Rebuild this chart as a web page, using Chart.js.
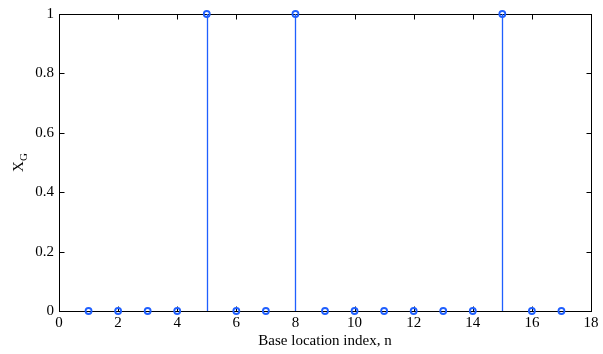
<!DOCTYPE html>
<html>
<head>
<meta charset="utf-8">
<script src="https://cdn.jsdelivr.net/npm/chart.js@4.4.0/dist/chart.umd.min.js"></script>
<style>
  html, body { margin: 0; padding: 0; background: #fff; }
  #wrap { width: 603px; height: 354px; }
</style>
</head>
<body>
<div id="wrap"><canvas id="stemChart"></canvas></div>
<script>
// data
const locationIndex = [1, 2, 3, 4, 5, 6, 7, 8, 9, 10, 11, 12, 13, 14, 15, 16, 17];
const xgValues = [0, 0, 0, 0, 1, 0, 0, 1, 0, 0, 0, 0, 0, 0, 1, 0, 0];
const xTickValues = [0, 2, 4, 6, 8, 10, 12, 14, 16, 18];
const yTickValues = [0, 0.2, 0.4, 0.6, 0.8, 1];

const STEM_BLUE = "#1f5fff";
const FONT = "'Liberation Serif', 'Times New Roman', serif";

// vertical stems from zero up to each value
const stemPlugin = {
  id: "stems",
  beforeDatasetsDraw(chart) {
    const ctx = chart.ctx;
    const xs = chart.scales.x, ys = chart.scales.y;
    ctx.save();
    ctx.strokeStyle = STEM_BLUE;
    ctx.lineWidth = 1.3;
    locationIndex.forEach((n, i) => {
      const px = Math.round(xs.getPixelForValue(n)) + 0.5;
      ctx.beginPath();
      ctx.moveTo(px, ys.getPixelForValue(0));
      ctx.lineTo(px, ys.getPixelForValue(xgValues[i]));
      ctx.stroke();
    });
    ctx.restore();
  }
};

// box around the axes with inward ticks, plus the X_G label
const framePlugin = {
  id: "frame",
  beforeDatasetsDraw(chart) {
    const ctx = chart.ctx;
    const a = chart.chartArea;
    const xs = chart.scales.x, ys = chart.scales.y;
    const L = Math.round(a.left) + 0.5, R = Math.round(a.right) + 0.5;
    const T = Math.round(a.top) + 0.5, B = Math.round(a.bottom) + 0.5;
    const tick = 5;
    ctx.save();
    ctx.strokeStyle = "#000";
    ctx.lineWidth = 1;
    ctx.strokeRect(L, T, R - L, B - T);
    ctx.beginPath();
    xTickValues.forEach(v => {
      const px = Math.round(xs.getPixelForValue(v)) + 0.5;
      ctx.moveTo(px, B); ctx.lineTo(px, B - tick);
      ctx.moveTo(px, T); ctx.lineTo(px, T + tick);
    });
    yTickValues.forEach(v => {
      const py = Math.round(ys.getPixelForValue(v)) + 0.5;
      ctx.moveTo(L, py); ctx.lineTo(L + tick, py);
      ctx.moveTo(R, py); ctx.lineTo(R - tick, py);
    });
    ctx.stroke();

    // y label: X with subscript G, rotated
    ctx.translate(23, (a.top + a.bottom) / 2);
    ctx.rotate(-Math.PI / 2);
    ctx.fillStyle = "#000";
    ctx.textBaseline = "alphabetic";
    ctx.font = "15px " + FONT;
    const wX = ctx.measureText("X").width;
    ctx.font = "11px " + FONT;
    const wG = ctx.measureText("G").width;
    const start = -(wX + wG) / 2;
    ctx.font = "15px " + FONT;
    ctx.fillText("X", start, 0);
    ctx.font = "11px " + FONT;
    ctx.fillText("G", start + wX, 4);
    ctx.restore();
  }
};

new Chart(document.getElementById("stemChart"), {
  type: "scatter",
  data: {
    datasets: [{
      data: locationIndex.map((n, i) => ({ x: n, y: xgValues[i] })),
      pointStyle: "circle",
      pointRadius: 3,
      pointBorderWidth: 1.8,
      pointBackgroundColor: "rgba(0,0,0,0)",
      pointBorderColor: STEM_BLUE,
      clip: false
    }]
  },
  options: {
    responsive: true,
    maintainAspectRatio: false,
    animation: false,
    events: [],
    layout: { padding: { top: 14, right: 12, left: 0, bottom: 0 } },
    plugins: {
      legend: { display: false },
      tooltip: { enabled: false }
    },
    scales: {
      x: {
        type: "linear",
        min: 0,
        max: 18,
        grid: { display: false, drawTicks: false },
        border: { display: false },
        ticks: {
          stepSize: 2,
          padding: 3,
          color: "#000",
          font: { family: FONT, size: 15 },
          maxRotation: 0
        },
        title: {
          display: true,
          text: "Base location index, n",
          color: "#000",
          font: { family: FONT, size: 15 },
          padding: { top: 0, bottom: 4 }
        },
        afterFit(scale) { scale.height = 43; }
      },
      y: {
        type: "linear",
        min: 0,
        max: 1,
        grid: { display: false, drawTicks: false },
        border: { display: false },
        ticks: {
          stepSize: 0.2,
          padding: 5,
          color: "#000",
          font: { family: FONT, size: 15 },
          callback: v => String(Number(v.toFixed(1)))
        },
        afterFit(scale) { scale.width = 59; }
      }
    }
  },
  plugins: [framePlugin, stemPlugin]
});
</script>
</body>
</html>
